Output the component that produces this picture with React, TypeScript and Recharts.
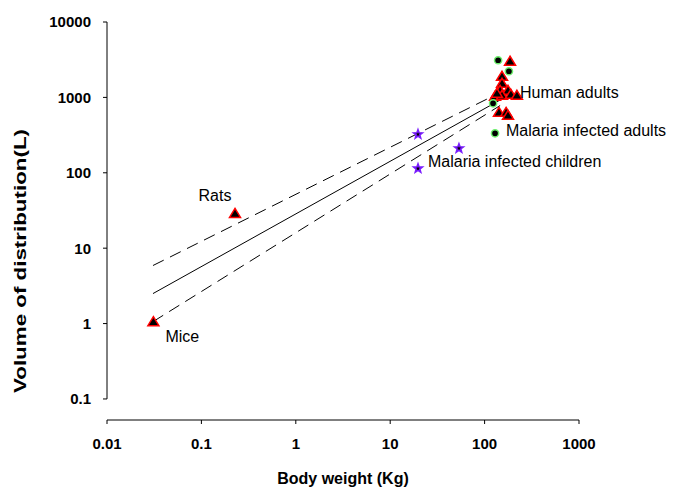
import { ScatterChart, Scatter, XAxis, YAxis, ReferenceLine, ReferenceDot } from 'recharts';

// species (mice, rats, human adults): body weight (kg) and Vd (L)
const speciesWeight = [0.031, 0.227, 186, 153, 153, 146, 177, 129, 153, 190, 220, 142, 169, 177, 135];
const speciesVd = [1.06, 28.9, 3015, 1906, 1539, 1243, 1243, 1035, 1067, 1099, 1067, 634, 634, 578, 1134];

// malaria infected adults
const adultWeight = [139, 181, 123, 129];
const adultVd = [3110, 2222, 835, 334];

// malaria infected children
const childWeight = [19.7, 53.5, 19.7];
const childVd = [324, 211, 114];

// regression line and confidence band ends
const fitWeight = [0.0307, 146];
const fitVd = [2.5, 924];
const upperVd = [5.89, 1161];
const lowerVd = [1.06, 780];

const xTicks = [0.01, 0.1, 1, 10, 100, 1000];
const yTicks = [0.1, 1, 10, 100, 1000, 10000];

const zip = (xs: number[], ys: number[]) => xs.map((x, i) => ({ x, y: ys[i] }));

const species = zip(speciesWeight, speciesVd);
const adults = zip(adultWeight, adultVd);
const children = zip(childWeight, childVd);
const fit = zip(fitWeight, fitVd);
const upper = zip(fitWeight, upperVd);
const lower = zip(fitWeight, lowerVd);

const FONT = '"Liberation Sans", Arial, sans-serif';
const Y_MIN = 0.0526; // x axis sits a little below the 0.1 tick

function Triangle({ cx, cy }: any) {
  return (
    <polygon
      points={`${cx},${cy - 5} ${cx + 5.5},${cy + 4} ${cx - 5.5},${cy + 4}`}
      fill="#000"
      stroke="#ff0000"
      strokeWidth={1.5}
      strokeLinejoin="miter"
    />
  );
}

function Dot({ cx, cy }: any) {
  return <circle cx={cx} cy={cy} r={3.6} fill="#000" stroke="#6ef06e" strokeWidth={1.5} />;
}

function Star({ cx, cy }: any) {
  const pts: string[] = [];
  for (let i = 0; i < 10; i++) {
    const r = i % 2 === 0 ? 4.6 : 1.9;
    const a = -Math.PI / 2 + (i * Math.PI) / 5;
    pts.push(`${cx + r * Math.cos(a)},${cy + r * Math.sin(a)}`);
  }
  return <polygon points={pts.join(' ')} fill="#000" stroke="#7a1cff" strokeWidth={1.6} strokeLinejoin="miter" />;
}

function Annot({ viewBox, text, dx, dy, anchor = 'start' }: any) {
  const cx = viewBox.x + viewBox.width / 2;
  const cy = viewBox.y + viewBox.height / 2;
  return (
    <text x={cx + dx} y={cy + dy} textAnchor={anchor} fontFamily={FONT} fontSize={16} fill="#000">
      {text}
    </text>
  );
}

function YTitle({ viewBox }: any) {
  const x = 26;
  const y = viewBox.y + viewBox.height / 2 + 40;
  return (
    <text
      x={x}
      y={y}
      transform={`rotate(-90 ${x} ${y})`}
      textAnchor="middle"
      textLength={264}
      lengthAdjust="spacingAndGlyphs"
      fontFamily={FONT}
      fontSize={16}
      fontWeight="bold"
      fill="#000"
    >
      Volume of distribution(L)
    </text>
  );
}

const noShape = () => null;

export default function App() {
  return (
    <div style={{ position: 'absolute', left: 0, top: 0, background: '#fff' }}>
      <ScatterChart width={679} height={488} margin={{ top: 22, right: 100, bottom: 0, left: 0 }}>
        <XAxis
          type="number"
          dataKey="x"
          scale="log"
          domain={[0.01, 1000]}
          ticks={xTicks}
          allowDataOverflow
          height={68}
          tickSize={4}
          tickMargin={14}
          stroke="#000"
          tick={{ fill: '#000', fontSize: 15, fontWeight: 'bold', fontFamily: FONT }}
          label={{
            value: 'Body weight (Kg)',
            position: 'insideBottom',
            offset: 4,
            fill: '#000',
            fontSize: 16,
            fontWeight: 'bold',
            fontFamily: FONT,
          }}
        />
        <YAxis
          type="number"
          dataKey="y"
          scale="log"
          domain={[Y_MIN, 10000]}
          ticks={yTicks}
          allowDataOverflow
          width={107}
          axisLine={false}
          tickSize={4}
          tickMargin={12}
          stroke="#000"
          tickLine={{ stroke: '#000' }}
          tick={{ fill: '#000', fontSize: 15, fontWeight: 'bold', fontFamily: FONT }}
          label={<YTitle />}
        />
        <ReferenceLine
          segment={[
            { x: 0.01, y: 0.1 },
            { x: 0.01, y: 10000 },
          ]}
          stroke="#000"
          strokeWidth={1}
        />
        <Scatter data={fit} shape={noShape} line={{ stroke: '#000', strokeWidth: 1 }} isAnimationActive={false} />
        <Scatter
          data={upper}
          shape={noShape}
          line={{ stroke: '#000', strokeWidth: 1, strokeDasharray: '12 7' }}
          isAnimationActive={false}
        />
        <Scatter
          data={lower}
          shape={noShape}
          line={{ stroke: '#000', strokeWidth: 1, strokeDasharray: '12 7' }}
          isAnimationActive={false}
        />
        <Scatter data={children} shape={<Star />} isAnimationActive={false} />
        <Scatter data={species} shape={<Triangle />} isAnimationActive={false} />
        <Scatter data={adults} shape={<Dot />} isAnimationActive={false} />
        <ReferenceDot x={0.227} y={28.9} r={0} fill="none" stroke="none" label={<Annot text="Rats" dx={-20} dy={-12} anchor="middle" />} />
        <ReferenceDot x={0.031} y={1.06} r={0} fill="none" stroke="none" label={<Annot text="Mice" dx={12} dy={20} />} />
        <ReferenceDot x={220} y={1067} r={0} fill="none" stroke="none" label={<Annot text="Human adults" dx={3} dy={3} />} />
        <ReferenceDot x={129} y={334} r={0} fill="none" stroke="none" label={<Annot text="Malaria infected adults" dx={11} dy={3} />} />
        <ReferenceDot x={53.5} y={211} r={0} fill="none" stroke="none" label={<Annot text="Malaria infected children" dx={-31} dy={19} />} />
      </ScatterChart>
    </div>
  );
}
